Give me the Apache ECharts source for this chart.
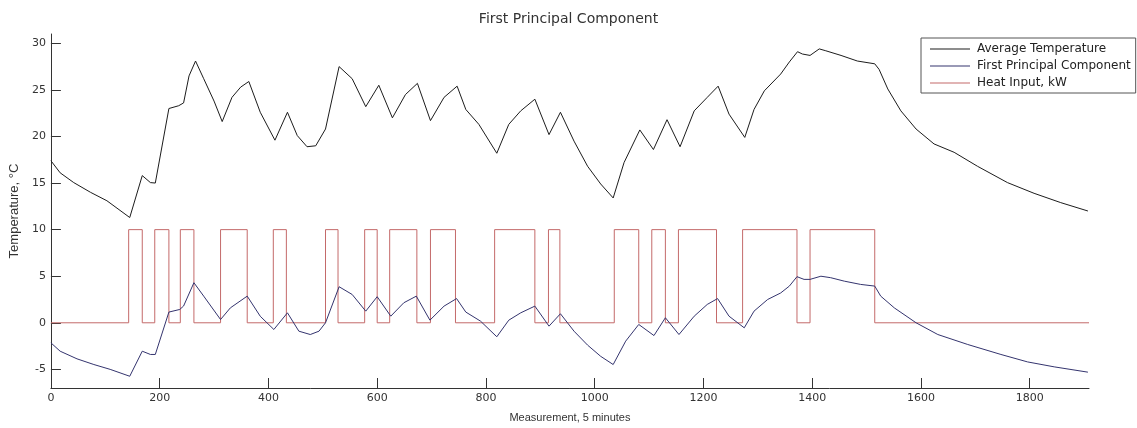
<!DOCTYPE html>
<html>
<head>
<meta charset="utf-8">
<script src="https://cdn.jsdelivr.net/npm/echarts@6/dist/echarts.min.js"></script>
<style>
html,body{margin:0;padding:0;background:#fff;}
#chart{width:1137px;height:428px;}
</style>
</head>
<body>
<div id="chart"></div>
<script>
// ---- Data ----
const tempX = [0,17,42,73,103,145,168,183,192,217,235,244,254,266,281,300,315,333,349,364,385,412,435,453,471,487,505,530,554,579,603,628,652,674,698,723,747,763,787,820,842,864,890,916,937,962,987,1011,1034,1054,1083,1108,1133,1157,1183,1207,1227,1247,1276,1293,1312,1342,1358,1373,1382,1396,1413,1425,1453,1483,1515,1523,1539,1563,1591,1624,1661,1704,1759,1808,1857,1907];
const tempY = [17.4,16.1,15.05,14.0,13.1,11.3,15.8,15.05,15.0,23.0,23.3,23.6,26.5,28.1,26.2,23.8,21.6,24.2,25.3,25.9,22.6,19.6,22.6,20.1,18.9,19.0,20.8,27.5,26.2,23.2,25.5,22.0,24.5,25.7,21.7,24.2,25.4,22.9,21.3,18.2,21.3,22.75,24.0,20.2,22.6,19.5,16.8,14.9,13.4,17.2,20.7,18.6,21.8,18.9,22.75,24.2,25.4,22.4,19.9,22.9,24.9,26.7,28.0,29.1,28.85,28.7,29.4,29.2,28.7,28.1,27.8,27.2,25.1,22.75,20.8,19.2,18.3,16.8,15.05,13.9,12.9,12.0];

const pcX = [0,17,48,79,109,145,168,183,192,217,237,244,263,281,312,330,361,385,410,435,456,477,493,505,530,554,579,600,625,649,672,697,723,746,763,790,820,842,864,890,916,937,962,987,1011,1034,1057,1081,1109,1130,1155,1183,1207,1226,1247,1275,1293,1318,1342,1358,1372,1385,1396,1416,1434,1459,1489,1515,1526,1551,1591,1631,1686,1747,1796,1845,1907];
const pcY = [-2.15,-3.05,-3.87,-4.48,-5.0,-5.74,-3.05,-3.4,-3.4,1.15,1.43,1.8,4.3,2.86,0.35,1.6,2.86,0.7,-0.72,1.07,-0.9,-1.26,-0.9,0.0,3.87,3.04,1.25,2.8,0.71,2.15,2.86,0.28,1.79,2.6,1.15,0.18,-1.5,0.28,1.07,1.79,-0.36,0.97,-0.9,-2.4,-3.6,-4.48,-1.97,-0.18,-1.37,0.54,-1.26,0.71,1.97,2.6,0.71,-0.54,1.25,2.5,3.2,3.94,4.95,4.66,4.66,5.0,4.84,4.47,4.12,3.94,2.86,1.6,0.0,-1.26,-2.33,-3.4,-4.2,-4.73,-5.3];

// Heat input pulses (kW): on/off measurement indices, level while on
const heatOn  = [143,191,238,312,409,505,577,623,698,816,915,1036,1105,1154,1272,1396];
const heatOff = [168,217,263,361,433,528,600,673,744,890,936,1081,1130,1224,1372,1515];
const heatLevel = 10;
const heatEnd = 1909;

const xTicks = [0,200,400,600,800,1000,1200,1400,1600,1800];
const yTicks = [-5,0,5,10,15,20,25,30];
const xRange = [0, 1909];
const yRange = [-7, 31];

const seriesNames = ['Average Temperature','First Principal Component','Heat Input, kW'];

// ---- Build series data ----
const zip = (xs, ys) => xs.map((x, i) => [x, ys[i]]);
const heatData = [[0, 0]];
heatOn.forEach((on, i) => {
  heatData.push([on, 0], [on, heatLevel], [heatOff[i], heatLevel], [heatOff[i], 0]);
});
heatData.push([heatEnd, 0]);

const axisColor = '#333';
const font = 'Liberation Sans, Arial, sans-serif';
const wide = 'DejaVu Sans, sans-serif';

const chart = echarts.init(document.getElementById('chart'));
chart.setOption({
  animation: false,
  backgroundColor: '#fff',
  title: {
    text: 'First Principal Component',
    left: 'center',
    top: 7,
    textStyle: { fontSize: 14, fontWeight: 'normal', color: '#333', fontFamily: wide }
  },
  legend: {
    orient: 'vertical',
    left: 921,
    top: 38,
    padding: [5, 5, 4, 9],
    itemGap: 5,
    itemWidth: 40,
    itemHeight: 1,
    icon: 'rect',
    borderColor: '#555',
    borderWidth: 1,
    backgroundColor: '#fff',
    textStyle: { fontSize: 12, color: '#222', fontFamily: wide, padding: [0, 0, 0, 2] },
    data: seriesNames
  },
  grid: { left: 50, right: 48, top: 34, bottom: 40, containLabel: false },
  xAxis: {
    type: 'value',
    min: xRange[0],
    max: xRange[1],
    name: 'Measurement, 5 minutes',
    nameLocation: 'middle',
    nameGap: 24,
    nameTextStyle: { fontSize: 11, color: '#333', fontFamily: font },
    axisLine: { show: true, onZero: false, lineStyle: { color: axisColor, width: 1 } },
    axisTick: { show: true, inside: true, length: 10, customValues: xTicks, lineStyle: { color: axisColor, width: 1 } },
    axisLabel: { customValues: xTicks, margin: 5, fontSize: 11, color: '#333', fontFamily: wide,
                 formatter: v => String(v) },
    splitLine: { show: false }
  },
  yAxis: {
    type: 'value',
    min: yRange[0],
    max: yRange[1],
    name: 'Temperature, °C',
    nameLocation: 'middle',
    nameGap: 29,
    nameRotate: 90,
    nameTextStyle: { fontSize: 13, color: '#333', fontFamily: font },
    axisLine: { show: true, onZero: false, lineStyle: { color: axisColor, width: 1 } },
    axisTick: { show: true, inside: true, length: 10, customValues: yTicks, lineStyle: { color: axisColor, width: 1 } },
    axisLabel: { customValues: yTicks, margin: 5, fontSize: 11, color: '#333', fontFamily: wide,
                 formatter: v => String(v) },
    splitLine: { show: false }
  },
  series: [
    {
      name: seriesNames[0], type: 'line', data: zip(tempX, tempY),
      showSymbol: false, symbol: 'none', smooth: false,
      lineStyle: { color: '#1c1c1c', width: 1 }, itemStyle: { color: '#1c1c1c' }, z: 3
    },
    {
      name: seriesNames[1], type: 'line', data: zip(pcX, pcY),
      showSymbol: false, symbol: 'none', smooth: false,
      lineStyle: { color: '#34346e', width: 1 }, itemStyle: { color: '#34346e' }, z: 3
    },
    {
      name: seriesNames[2], type: 'line', data: heatData,
      showSymbol: false, symbol: 'none', smooth: false,
      lineStyle: { color: '#c46a6a', width: 1 }, itemStyle: { color: '#c46a6a' }, z: 2
    }
  ]
});
</script>
</body>
</html>
